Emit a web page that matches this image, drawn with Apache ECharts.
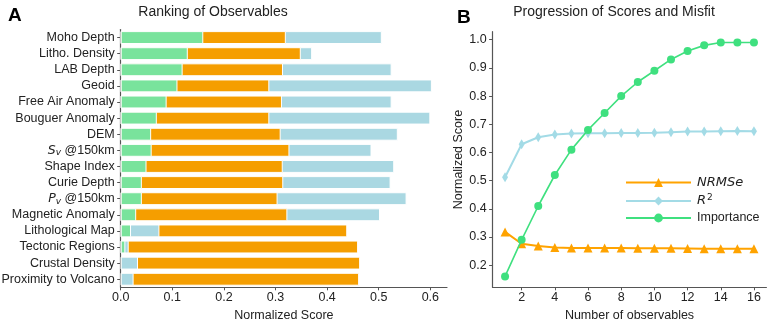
<!DOCTYPE html>
<html><head><meta charset="utf-8">
<script src="https://cdn.jsdelivr.net/npm/echarts@6/dist/echarts.min.js"></script>
<style>html,body{margin:0;padding:0;background:#fff}#c{width:768px;height:319px}</style>
</head><body><div id="c"></div>
<script>
// ---- Panel A data ----
const categories = ['Moho Depth','Litho. Density','LAB Depth','Geoid','Free Air Anomaly','Bouguer Anomaly','DEM','Sv @150km','Shape Index','Curie Depth','Pv @150km','Magnetic Anomaly','Lithological Map','Tectonic Regions','Crustal Density','Proximity to Volcano'];
const barImportance = [0.160,0.130,0.120,0.110,0.089,0.070,0.059,0.060,0.050,0.041,0.041,0.030,0.020,0.009,0,0];
const barNRMSe = [0.320,0.349,0.3145,0.288,0.3125,0.288,0.310,0.327,0.314,0.315,0.304,0.323,0.439,0.460,0.464,0.462];
const barR2 = [0.506,0.371,0.525,0.603,0.525,0.600,0.537,0.486,0.530,0.523,0.554,0.5025,0.075,0.0155,0.0335,0.025];
const xTicksA = [0,0.1,0.2,0.3,0.4,0.5,0.6];
// ---- Panel B data ----
const nObs = [1,2,3,4,5,6,7,8,9,10,11,12,13,14,15,16];
const lineNRMSe = [0.318,0.276,0.268,0.263,0.261,0.261,0.261,0.261,0.260,0.260,0.260,0.259,0.258,0.258,0.258,0.258];
const lineR2 = [0.512,0.629,0.654,0.664,0.667,0.668,0.668,0.669,0.669,0.670,0.672,0.674,0.674,0.675,0.676,0.675];
const lineImportance = [0.16,0.29,0.41,0.52,0.61,0.68,0.74,0.80,0.85,0.89,0.93,0.96,0.98,0.99,0.99,0.99];
const xTicksB = [2,4,6,8,10,12,14,16];
const yTicksB = [0.2,0.3,0.4,0.5,0.6,0.7,0.8,0.9,1.0];

const GREEN_BAR = '#79e39c', ORANGE = '#f59e00', BLUE = '#aad8e2';
const GREEN_LINE = '#3fe07f', ORANGE_LINE = '#ffa300', BLUE_LINE = '#a3dbe6';
const AX = '#555', TXT = '#222';
const FONT = 'Liberation Sans, Arial, sans-serif';

// Overlapping bars: longest drawn behind
const layers = [[],[],[]];
categories.forEach((c,i)=>{
  const items = [
    {v: barImportance[i], c: GREEN_BAR},
    {v: barNRMSe[i], c: ORANGE},
    {v: barR2[i], c: BLUE}
  ].sort((a,b)=>b.v-a.v);
  items.forEach((it,k)=>{
    layers[k].push({value: it.v, itemStyle:{color: it.c, borderWidth: it.v>0?1:0}});
  });
});
const barSeries = layers.map((d,k)=>({
  type:'bar', xAxisIndex:0, yAxisIndex:0, data:d, barWidth:'80%', barGap:'-100%',
  silent:true, animation:false, z:2+k,
  itemStyle:{borderColor:'#fff', borderWidth:1}
}));

function catFmt(v){
  if (v==='Sv @150km') return '{i|S}{sub|v}{n| @150km}';
  if (v==='Pv @150km') return '{i|P}{sub|v}{n| @150km}';
  return '{n|'+v+'}';
}

const chart = echarts.init(document.getElementById('c'), null, {renderer:'canvas'});
chart.setOption({
  animation:false,
  textStyle:{fontFamily:FONT},
  title:[
    {text:'A', left:3, top:1, textStyle:{fontSize:19, fontWeight:'bold', color:'#000', fontFamily:FONT}},
    {text:'Ranking of Observables', left:208, top:0, textAlign:'center', textStyle:{fontSize:14, fontWeight:'normal', color:TXT, fontFamily:FONT}},
    {text:'B', left:452, top:3, textStyle:{fontSize:19, fontWeight:'bold', color:'#000', fontFamily:FONT}},
    {text:'Progression of Scores and Misfit', left:609, top:0, textAlign:'center', textStyle:{fontSize:14, fontWeight:'normal', color:TXT, fontFamily:FONT}}
  ],
  grid:[
    {left:120.7, top:29.5, width:326.3, height:257.8, containLabel:false, outerBoundsMode:'none'},
    {left:492.6, top:31.7, width:273.8, height:255.6, containLabel:false, outerBoundsMode:'none'}
  ],
  legend:{
    left:620, top:171, orient:'vertical', itemWidth:65, itemHeight:11, itemGap:4,
    data:['NRMSe','R2','Importance'],
    formatter:function(n){
      if(n==='NRMSe') return '{it|NRMSe}';
      if(n==='R2') return '{it|R}{sup|2}';
      return '{n|Importance}';
    },
    textStyle:{color:TXT, fontSize:12.5, fontFamily:FONT, padding:[0,0,0,1],
      rich:{
        it:{fontStyle:'italic', fontSize:13, fontFamily:'DejaVu Sans', color:TXT},
        sup:{fontSize:9, fontFamily:'DejaVu Sans', color:TXT, padding:[0,0,7,1]},
        n:{fontSize:12.5, fontFamily:FONT, color:TXT}
      }}
  },
  xAxis:[
    {type:'value', gridIndex:0, min:0, max:0.6323,
     name:'Normalized Score', nameLocation:'middle', nameGap:20,
     nameTextStyle:{fontSize:12.5, color:TXT, fontFamily:FONT},
     axisLine:{show:true, lineStyle:{color:AX, width:1.2}},
     axisTick:{show:true, length:3, lineStyle:{color:AX}, customValues:xTicksA},
     axisLabel:{fontSize:12.5, color:TXT, margin:4, customValues:xTicksA, formatter:v=>v.toFixed(1)},
     splitLine:{show:false}},
    {type:'value', gridIndex:1, min:0.25, max:16.75,
     name:'Number of observables', nameLocation:'middle', nameGap:20,
     nameTextStyle:{fontSize:12.5, color:TXT, fontFamily:FONT},
     axisLine:{show:true, lineStyle:{color:AX, width:1.2}},
     axisTick:{show:true, length:3, lineStyle:{color:AX}, customValues:xTicksB},
     axisLabel:{fontSize:12.5, color:TXT, margin:4, customValues:xTicksB},
     splitLine:{show:false}}
  ],
  yAxis:[
    {type:'category', gridIndex:0, data:categories, inverse:true,
     axisLine:{show:true, lineStyle:{color:AX, width:1.2}},
     axisTick:{show:true, length:3.5, alignWithLabel:true, lineStyle:{color:AX}},
     axisLabel:{margin:6, color:TXT, fontSize:12.5, formatter:catFmt, interval:0,
       rich:{
         n:{fontSize:12.5, color:TXT, fontFamily:FONT},
         i:{fontSize:12.5, color:TXT, fontStyle:'italic', fontFamily:'DejaVu Sans'},
         sub:{fontSize:9, color:TXT, fontStyle:'italic', fontFamily:'DejaVu Sans', padding:[5,0,0,0]}
       }},
     splitLine:{show:false}},
    {type:'value', gridIndex:1, min:0.1215, max:1.0285,
     name:'Normalized Score', nameLocation:'middle', nameGap:25,
     nameTextStyle:{fontSize:12.5, color:TXT, fontFamily:FONT},
     axisLine:{show:true, lineStyle:{color:AX, width:1.2}},
     axisTick:{show:true, length:3.5, lineStyle:{color:AX}, customValues:yTicksB},
     axisLabel:{fontSize:12.5, color:TXT, margin:6, customValues:yTicksB, formatter:v=>v.toFixed(1)},
     splitLine:{show:false}}
  ],
  series:[
    ...barSeries,
    {name:'NRMSe', type:'line', xAxisIndex:1, yAxisIndex:1,
     data:nObs.map((x,i)=>[x,lineNRMSe[i]]), symbol:'triangle', symbolSize:9,
     lineStyle:{color:ORANGE_LINE, width:2}, itemStyle:{color:ORANGE_LINE}, z:3},
    {name:'R2', type:'line', xAxisIndex:1, yAxisIndex:1,
     data:nObs.map((x,i)=>[x,lineR2[i]]), symbol:'diamond', symbolSize:[6,10],
     lineStyle:{color:BLUE_LINE, width:2}, itemStyle:{color:BLUE_LINE}, z:4},
    {name:'Importance', type:'line', xAxisIndex:1, yAxisIndex:1,
     data:nObs.map((x,i)=>[x,lineImportance[i]]), symbol:'circle', symbolSize:8,
     lineStyle:{color:GREEN_LINE, width:1.6}, itemStyle:{color:GREEN_LINE}, z:5}
  ]
});
</script></body></html>
